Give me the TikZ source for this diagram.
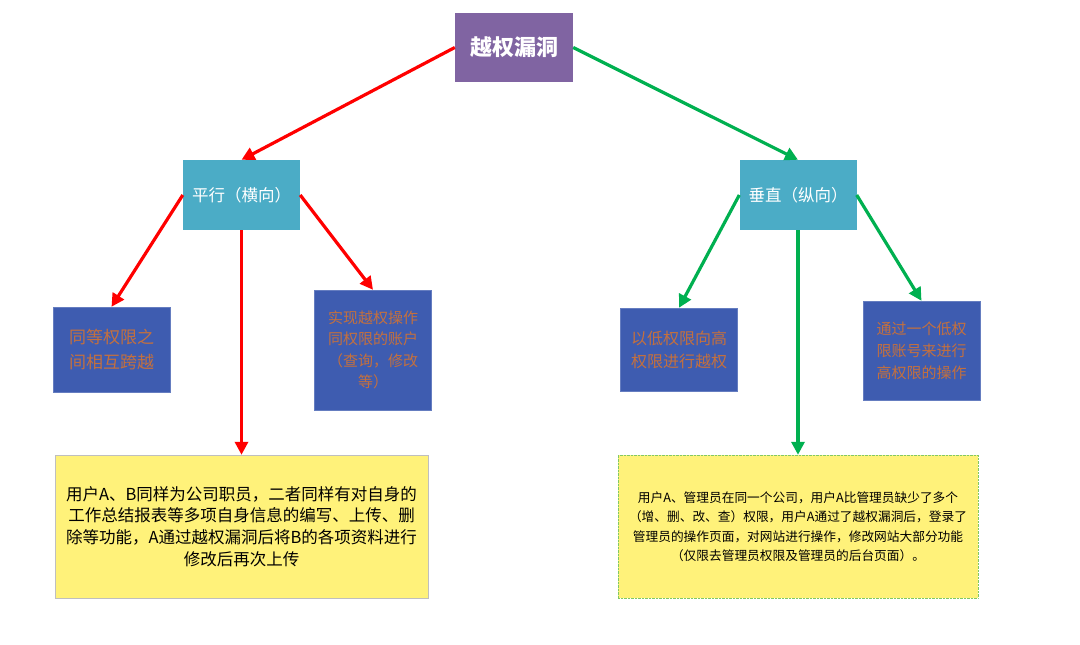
\documentclass[tikz,border=0pt]{standalone}
\usepackage{fontspec}
\setmainfont{Noto Sans CJK SC}
\usetikzlibrary{arrows.meta}
\definecolor{topviolet}{RGB}{128,100,162}
\definecolor{midteal}{RGB}{75,172,198}
\definecolor{leafblue}{RGB}{62,92,176}
\definecolor{leaftext}{RGB}{196,112,62}
\definecolor{notefill}{RGB}{255,242,122}
\definecolor{noteline}{RGB}{130,200,100}
\definecolor{arrowred}{RGB}{255,0,0}
\definecolor{arrowgreen}{RGB}{0,176,80}
\begin{document}
\begin{tikzpicture}[x=1pt, y=-1pt,
    topbox/.style={fill=topviolet, text=white, font=\fontsize{22}{24}\selectfont\bfseries,
        minimum width=118pt, minimum height=69pt, inner sep=0pt},
    midbox/.style={fill=midteal, text=white, font=\fontsize{16.5}{20}\selectfont,
        minimum width=117pt, minimum height=70pt, inner sep=0pt},
    leafbox/.style={fill=leafblue, draw=leafblue!80!white, text=leaftext, align=center,
        minimum width=117pt, inner sep=0pt},
    notebox/.style={fill=notefill, align=center, inner sep=0pt},
    redarrow/.style={draw=arrowred, line width=3.2pt, -{Triangle[length=13pt,width=13pt]}},
    greenarrow/.style={draw=arrowgreen, line width=3.2pt, -{Triangle[length=13pt,width=13pt]}}]
    \useasboundingbox (0,0) rectangle (1080,645);

    % Root
    \node[topbox] (root) at (514,47.5) {越权漏洞};

    % Two kinds
    \node[midbox] (horiz) at (241.5,195) {平行（横向）};
    \node[midbox] (vert) at (798,195) {垂直（纵向）};

    % Horizontal branch
    \node[leafbox, minimum height=85pt, font=\fontsize{17}{25}\selectfont] (peer) at (111.5,349.5)
        {同等权限之\\间相互跨越};
    \node[leafbox, minimum height=120pt, font=\fontsize{15}{21.5}\selectfont] (sameacc) at (373,350)
        {实现越权操作\\同权限的账户\\（查询，修改\\等）};
    \node[notebox, draw=black!25, minimum width=373pt, minimum height=143pt,
        font=\fontsize{16.5}{21.8}\selectfont] (caseA) at (241.5,526.5)
        {用户A、B同样为公司职员，二者同样有对自身的\\
         工作总结报表等多项自身信息的编写、上传、删\\
         除等功能，A通过越权漏洞后将B的各项资料进行\\
         修改后再次上传};

    % Vertical branch
    \node[leafbox, minimum height=83pt, font=\fontsize{16}{23}\selectfont] (lowhigh) at (679,349.5)
        {以低权限向高\\权限进行越权};
    \node[leafbox, minimum height=99pt, font=\fontsize{15}{22}\selectfont] (lowacc) at (921.5,350.5)
        {通过一个低权\\限账号来进行\\高权限的操作};
    \node[notebox, draw=noteline, densely dotted, minimum width=360pt, minimum height=143pt,
        font=\fontsize{12.7}{19.5}\selectfont] (caseB) at (798,526.5)
        {用户A、管理员在同一个公司，用户A比管理员缺少了多个\\
         （增、删、改、查）权限，用户A通过了越权漏洞后，登录了\\
         管理员的操作页面，对网站进行操作，修改网站大部分功能\\
         （仅限去管理员权限及管理员的后台页面）。};

    % Arrows
    \draw[redarrow] (root.west) -- (horiz.north);
    \draw[greenarrow] (root.east) -- (vert.north);
    \draw[redarrow] (horiz.west) -- (peer.north);
    \draw[redarrow] (horiz.south) -- (caseA.north);
    \draw[redarrow] (horiz.east) -- (sameacc.north);
    \draw[greenarrow] (vert.west) -- (lowhigh.north);
    \draw[greenarrow] (vert.south) -- (caseB.north);
    \draw[greenarrow] (vert.east) -- (lowacc.north);
\end{tikzpicture}
\end{document}
